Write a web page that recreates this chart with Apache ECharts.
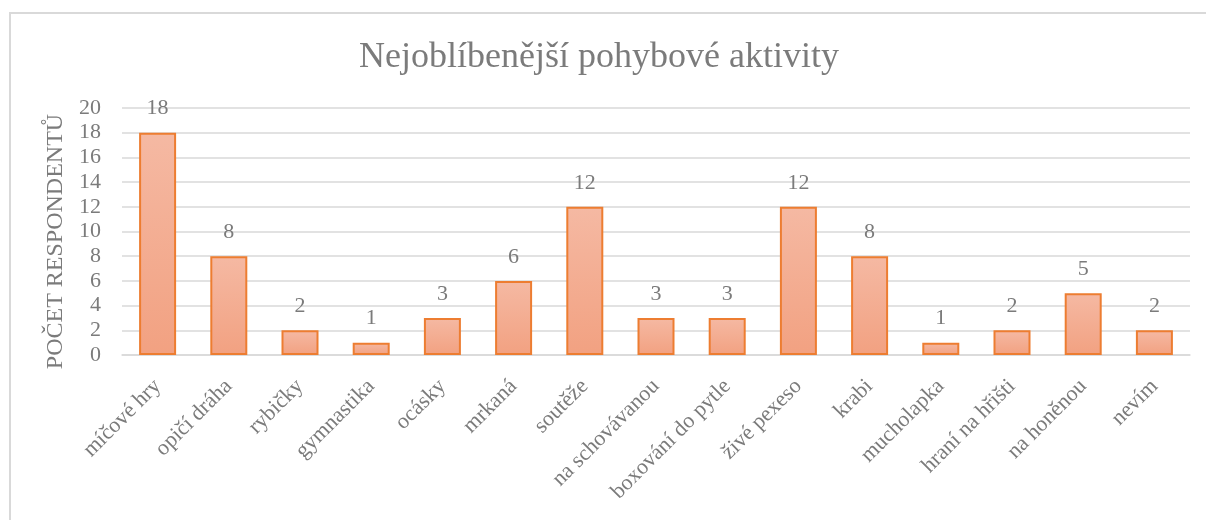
<!DOCTYPE html>
<html>
<head>
<meta charset="utf-8">
<script src="https://cdn.jsdelivr.net/npm/echarts@6/dist/echarts.min.js"></script>
<style>
  html, body { margin: 0; padding: 0; background: #fff; }
  #chart { width: 1206px; height: 520px; }
</style>
</head>
<body>
<div id="chart"></div>
<script>
// data
const activities = [
  'míčové hry', 'opičí dráha', 'rybičky', 'gymnastika', 'ocásky', 'mrkaná',
  'soutěže', 'na schovávanou', 'boxování do pytle', 'živé pexeso', 'krabi',
  'mucholapka', 'hraní na hřišti', 'na honěnou', 'nevím'
];
const respondents = [18, 8, 2, 1, 3, 6, 12, 3, 3, 12, 8, 1, 2, 5, 2];
const yTicks = { min: 0, max: 20, interval: 2 };

const serif = '"Liberation Serif", "DejaVu Serif", serif';
const textGray = '#7b7b7b';

const chart = echarts.init(document.getElementById('chart'));

chart.setOption({
  backgroundColor: '#fff',
  animation: false,
  graphic: [{
    type: 'rect',
    shape: { x: 10, y: 13, width: 1220, height: 540 },
    style: { fill: 'none', stroke: '#d9d9d9', lineWidth: 2 },
    silent: true
  }],
  title: {
    text: 'Nejoblíbenější pohybové aktivity',
    left: 594,
    textAlign: 'center',
    top: 35,
    textStyle: { fontFamily: serif, fontSize: 36, fontWeight: 'normal', color: textGray }
  },
  grid: { left: 122, right: 16, top: 108, bottom: 165 },
  xAxis: {
    type: 'category',
    data: activities,
    axisLine: { lineStyle: { color: '#d9d9d9', width: 1.5 } },
    axisTick: { show: false },
    axisLabel: {
      rotate: 45,
      interval: 0,
      margin: 28,
      fontFamily: serif,
      fontSize: 22,
      color: textGray
    }
  },
  yAxis: {
    type: 'value',
    min: yTicks.min,
    max: yTicks.max,
    interval: yTicks.interval,
    name: 'POČET RESPONDENTŮ',
    nameLocation: 'middle',
    nameGap: 54,
    nameTextStyle: { fontFamily: serif, fontSize: 24, color: textGray, padding: [0, 20, 0, 0] },
    axisLine: { show: false },
    axisTick: { show: false },
    splitLine: { lineStyle: { color: '#d9d9d9', width: 1.5 } },
    axisLabel: { fontFamily: serif, fontSize: 22, color: textGray, margin: 21 }
  },
  series: [{
    type: 'bar',
    data: respondents,
    barWidth: 37,
    itemStyle: {
      color: new echarts.graphic.LinearGradient(0, 0, 0, 1, [
        { offset: 0, color: '#f5b9a3' },
        { offset: 1, color: '#f2a181' }
      ]),
      borderColor: '#ed7d31',
      borderWidth: 2
    },
    label: {
      show: true,
      position: 'top',
      distance: 13,
      fontFamily: serif,
      fontSize: 22,
      color: textGray
    }
  }]
});
</script>
</body>
</html>
